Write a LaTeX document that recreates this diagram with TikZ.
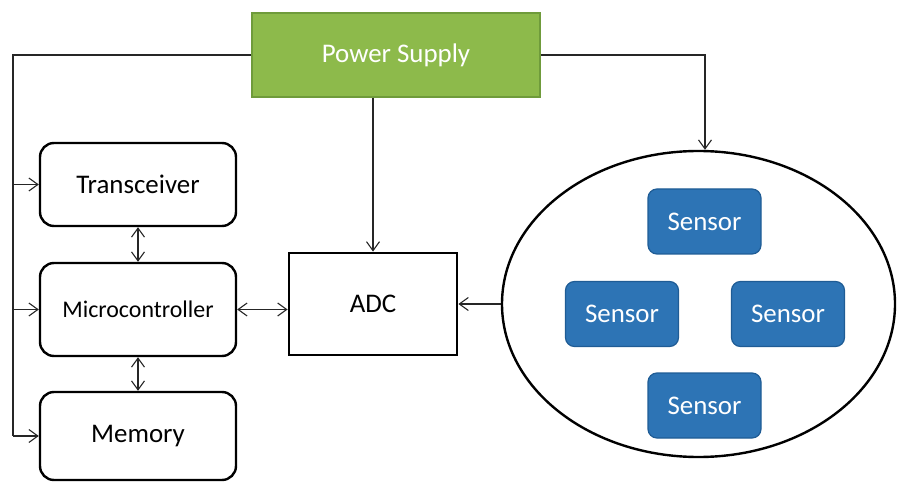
\documentclass[tikz,border=0pt]{standalone}
\usepackage{fontspec}
\setmainfont{Carlito}
\usetikzlibrary{arrows.meta,shapes.geometric}

\definecolor{psgreen}{HTML}{8DBA4B}
\definecolor{psedge}{HTML}{6F9B3B}
\definecolor{snblue}{HTML}{2D74B5}
\definecolor{snedge}{HTML}{1F5C95}

\begin{document}
\begin{tikzpicture}[x=1bp,y=-1bp,
  wire/.style={line width=1.1bp,draw=black!85},
  tip/.style={-{Straight Barb[length=9bp,width=13bp,line width=1.1bp]}},
  twotip/.style={{Straight Barb[length=9bp,width=13bp,line width=1.1bp]}-{Straight Barb[length=9bp,width=13bp,line width=1.1bp]}},
  unit/.style={draw,rounded corners=14bp,line width=2.4bp,minimum width=196bp,inner sep=0pt,font=\fontsize{27}{30}\selectfont},
  sensor/.style={draw=snedge,fill=snblue,rounded corners=9bp,line width=1.2bp,minimum width=113bp,minimum height=65bp,inner sep=0pt,text=white,font=\fontsize{27}{30}\selectfont}]

  \useasboundingbox (0,0) rectangle (897,483);

  \node[draw=psedge,fill=psgreen,line width=1.5bp,minimum width=288bp,minimum height=84bp,inner sep=0pt,text=white,font=\fontsize{27}{30}\selectfont] (PS) at (396,55) {Power Supply};

  \node[unit,minimum height=83bp] (Trans) at (138,184.5) {Transceiver};
  \node[unit,minimum height=93bp,font=\fontsize{24}{28}\selectfont] (Micro) at (138,309.5) {Microcontroller};
  \node[unit,minimum height=88bp] (Mem) at (138,436) {Memory};

  \node[draw,line width=2.8bp,minimum width=168bp,minimum height=102bp,inner sep=0pt,font=\fontsize{27}{30}\selectfont] (ADC) at (373,304) {ADC};

  \node[draw,ellipse,line width=2.4bp,minimum width=393bp,minimum height=306bp,inner sep=0pt] (Field) at (698.5,304) {};
  \node[sensor] (S1) at (704.5,221.5) {Sensor};
  \node[sensor] (S2) at (622,314) {Sensor};
  \node[sensor] (S3) at (788,314) {Sensor};
  \node[sensor] (S4) at (704.5,405.5) {Sensor};

  \coordinate (bus) at (13,55);
  \coordinate (drop) at (705,55);

  \draw[wire] (PS.west) -- (bus) -- (bus |- Mem.west);
  \draw[wire,tip] (bus |- Trans.west) -- (Trans.west);
  \draw[wire,tip] (bus |- Micro.west) -- (Micro.west);
  \draw[wire,tip] (bus |- Mem.west) -- (Mem.west);

  \draw[wire,tip] (ADC.north |- PS.south) -- (ADC.north);
  \draw[wire,tip] (PS.east) -- (drop) -- (drop |- Field.north);

  \draw[wire,twotip] (Trans.south) -- (Micro.north);
  \draw[wire,twotip] (Micro.south) -- (Mem.north);
  \draw[wire,twotip] (Micro.east) -- (Micro.east -| ADC.west);
  \draw[wire,tip] (Field.west) -- (ADC.east);

\end{tikzpicture}
\end{document}
